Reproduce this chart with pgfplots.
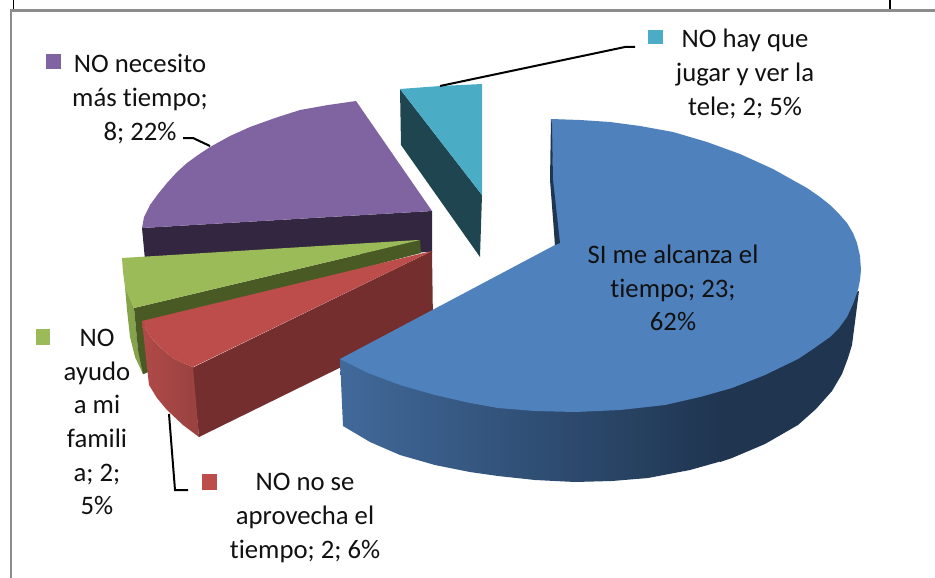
\documentclass[border=0pt]{standalone}
\usepackage{pgfplots}
\pgfplotsset{compat=1.18}
\usepackage{fontspec}
\setmainfont[RawFeature={-liga;-clig}]{Carlito}
\definecolor{blueT}{HTML}{4F81BD}
\definecolor{blueA}{HTML}{41699A}
\definecolor{blueB}{HTML}{1F3550}
\definecolor{tealT}{HTML}{4BACC6}
\definecolor{tealD}{HTML}{1F4650}
\definecolor{purT}{HTML}{8064A2}
\definecolor{purD}{HTML}{332640}
\definecolor{greT}{HTML}{9BBB59}
\definecolor{greD}{HTML}{4A5A24}
\definecolor{greS}{HTML}{84A34B}
\definecolor{redT}{HTML}{BC4D4A}
\definecolor{redD}{HTML}{752E2E}
\definecolor{redA}{HTML}{B04A47}
\definecolor{redB}{HTML}{984240}
\definecolor{txt}{HTML}{111111}
\begin{document}
\begin{tikzpicture}
\begin{axis}[
  width=935pt,height=578pt,scale only axis,
  xmin=0,xmax=935,ymin=0,ymax=578,y dir=reverse,
  axis lines=none,enlargelimits=false,
]
% page extent
\addplot[draw=white,opacity=0,no markers] coordinates {(0,0)(935,0)(935,578)(0,578)} -- cycle;
% frame
\addplot[draw=black!45,line width=2.6pt,no markers] coordinates {(11,578)(11,10.5)(935,10.5)};
\addplot[draw=black,line width=1.5pt,no markers] coordinates {(13.5,0)(13.5,9)};
\addplot[draw=black,line width=1.5pt,no markers] coordinates {(890,0)(890,9)};
% purple
\addplot[draw=none,fill=purD,no markers] coordinates {(142,228)(432,211)(432,252)(145,260)} -- cycle;
\addplot[draw=none,fill=purT,no markers] coordinates {(356,101)(432,211)(142,228)(144,217)(150,205)(158,194)(167,183)(177,172)(187,163)(198,155)(210,147)(230,136)(250,127)(275,118)(300,110)(328,105)} -- cycle;
% green
\addplot[draw=none,fill=greS,no markers] coordinates {(125,287)(127,310)(130,337)(135,357)(143,374)(146,373)(138,350)(134,308)} -- cycle;
\addplot[draw=none,fill=greD,no markers] coordinates {(134,308)(420,240)(421,253)(145,325)(148,372)(146,373)(143,374)(138,350)} -- cycle;
\addplot[draw=none,fill=greT,no markers] coordinates {(122,258)(418,240)(420,240)(134,308)(129,297)(125,287)(123,272)} -- cycle;
% red
\addplot[draw=none,fill=redD,no markers] coordinates {(192,368)(432,251)(433,322)(199,437)} -- cycle;
\addplot[draw=none,left color=redA,right color=redB,no markers] coordinates {(142,321)(147,331)(153,340)(162,349)(173,358)(183,363)(193,367)(199,437)(183,425)(167,410)(157,398)(149,385)} -- cycle;
\addplot[draw=none,fill=redT,no markers] coordinates {(142,321)(432,251)(193,367)(183,363)(173,358)(162,349)(153,340)(147,331)} -- cycle;
% teal
\addplot[draw=none,fill=tealD,no markers] coordinates {(400,89)(401,145)(480,257)(482,195)} -- cycle;
\addplot[draw=none,fill=tealT,no markers] coordinates {(400,89)(440,86)(482,84)(482,195)} -- cycle;
% blue side
\addplot[draw=none,left color=blueA,right color=blueB,no markers] coordinates {(340,359)(343,426)(370,442)(400,455)(435,465)(470,472)(498,476)(535,480)(575,482)(612,481)(648,478)(690,470)(722,461)(722,350)} -- cycle;
\addplot[draw=none,fill=blueB,no markers] coordinates {(720,350)(720,462)(732,458)(765,444)(798,425)(816,409)(832,391)(842,374)(848,358)(852,345)(859,291)} -- cycle;
% blue top
\addplot[draw=none,fill=blueT,no markers] coordinates {(551,119)(580,120)(610,122)(640,126)(673,132)(707,142)(740,154)(773,169)(807,188)(820,197)(830,205)(840,215)(847,223)(853,233)(857,243)(860,256)(861,270)(860,280)(858,290)(853,304)(847,317)(839,328)(830,337)(813,349)(798,359)(765,375)(732,388)(700,397)(665,405)(620,410)(575,412)(535,411)(498,408)(470,403)(435,395)(400,385)(368,373)(340,359)(555,245)} -- cycle;
\addplot[draw=none,fill=blueB,no markers] coordinates {(551,119)(550,180)(555,245)(560,243)(553,180)(552,125)} -- cycle;
% keys
\addplot[draw=none,fill=purT,no markers] coordinates {(46,54)(61,54)(61,69)(46,69)} -- cycle;
\addplot[draw=none,fill=tealT,no markers] coordinates {(648,30)(663,30)(663,44)(648,44)} -- cycle;
\addplot[draw=none,fill=greT,no markers] coordinates {(36,329)(50,329)(50,345)(36,345)} -- cycle;
\addplot[draw=none,fill=redT,no markers] coordinates {(202,474)(217,474)(217,490)(202,490)} -- cycle;
% leaders
\addplot[draw=black,line width=2pt,no markers] coordinates {(183,138)(193,138)(210,146)};
\addplot[draw=black,line width=2pt,no markers] coordinates {(440,86)(625,47)(635,47)};
\addplot[draw=black,line width=2pt,no markers] coordinates {(169,414)(175,490)(188,490)};
% labels
\tikzset{lab/.style={align=center,text=txt,inner sep=0pt,font=\fontsize{26.7}{33.7}\selectfont}}
\node[lab] at (axis cs:140,99) {NO necesito\\más tiempo;\\8; 22\%};
\node[lab] at (axis cs:745,74) {NO hay que\\jugar y ver la\\tele; 2; 5\%};
\node[lab] at (axis cs:673,288) {SI me alcanza el\\tiempo; 23;\\62\%};
\node[lab] at (axis cs:97,422) {NO\\ayudo\\a mi\\famili\\a; 2;\\5\%};
\node[lab] at (axis cs:305,518) {NO no se\\aprovecha el\\tiempo; 2; 6\%};
\end{axis}
\end{tikzpicture}
\end{document}
